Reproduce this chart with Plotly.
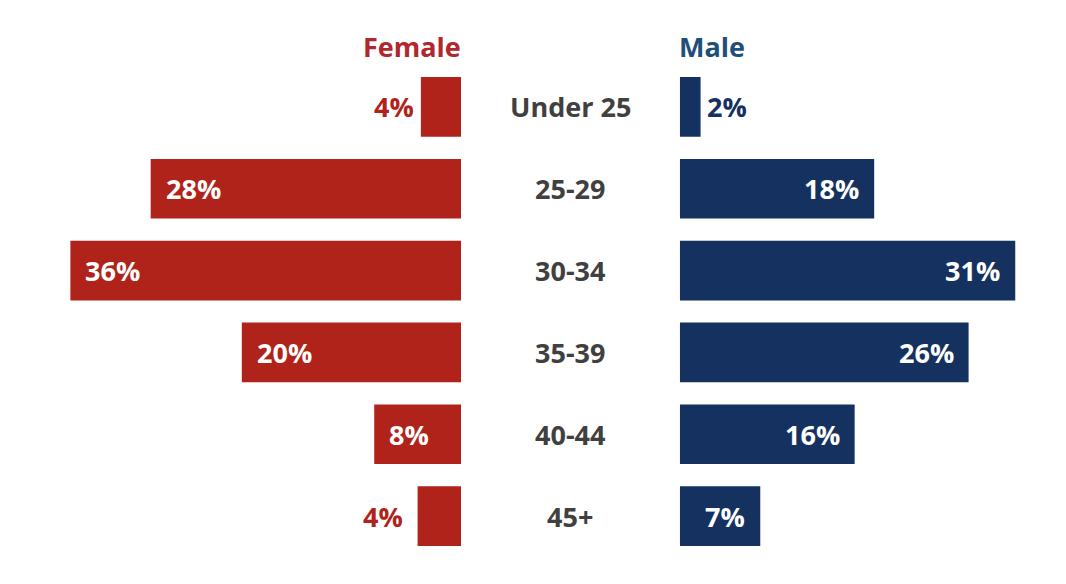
import plotly.graph_objects as go

categories = ["Under 25", "25-29", "30-34", "35-39", "40-44", "45+"]
female = [3.7, 28.6, 36.0, 20.2, 8.0, 4.0]
male = [1.9, 17.9, 30.9, 26.6, 16.1, 7.4]
female_labels = ["4%", "28%", "36%", "20%", "8%", "4%"]
male_labels = ["2%", "18%", "31%", "26%", "16%", "7%"]

RED = "#B0231A"
NAVY = "#14315F"
RED_T = "#B0272D"
NAVY_T = "#1F4E79"
GREY = "#404040"
FONT = "Open Sans"
FS = 27
G = 10.09  # half gap in axis units

fig = go.Figure()
fig.add_trace(go.Bar(y=categories, x=[-v for v in female], base=-G, orientation="h",
                     marker=dict(color=RED, line=dict(width=0)), width=0.73,
                     hoverinfo="skip", showlegend=False))
fig.add_trace(go.Bar(y=categories, x=male, base=G, orientation="h",
                     marker=dict(color=NAVY, line=dict(width=0)), width=0.73,
                     hoverinfo="skip", showlegend=False))

ann = []
for i, (c, v, lab) in enumerate(zip(categories, female, female_labels)):
    inside = v >= 6
    ann.append(dict(x=-G - v, y=c, text=f"<b>{lab}</b>", showarrow=False,
                    xanchor="left" if inside else "right",
                    xshift=13 if inside else (-5 if i == 0 else -13),
                    font=dict(family=FONT, size=FS, color="white" if inside else RED)))
for c, v, lab in zip(categories, male, male_labels):
    inside = v >= 6
    ann.append(dict(x=G + v, y=c, text=f"<b>{lab}</b>", showarrow=False,
                    xanchor="right" if inside else "left",
                    xshift=-13 if inside else 4,
                    font=dict(family=FONT, size=FS, color="white" if inside else NAVY)))
for c in categories:
    ann.append(dict(x=0, y=c, text=f"<b>{c}</b>", showarrow=False, xanchor="center",
                    font=dict(family=FONT, size=FS, color=GREY)))
ann.append(dict(x=-G, y=1.039, yref="paper", text="<b>Female</b>", showarrow=False,
                xanchor="right", yanchor="middle", xshift=2,
                font=dict(family=FONT, size=FS, color=RED_T)))
ann.append(dict(x=G, y=1.039, yref="paper", text="<b>Male</b>", showarrow=False,
                xanchor="left", yanchor="middle", xshift=-3,
                font=dict(family=FONT, size=FS, color=NAVY_T)))

fig.update_layout(
    width=1050, height=568,
    margin=dict(l=0, r=0, t=58, b=19),
    paper_bgcolor="white", plot_bgcolor="white",
    barmode="overlay",
    xaxis=dict(range=[-51.84, 44.93], visible=False, fixedrange=True),
    yaxis=dict(range=[5.5, -0.5], visible=False, fixedrange=True),
    annotations=ann,
)
fig.write_html("out.html")
